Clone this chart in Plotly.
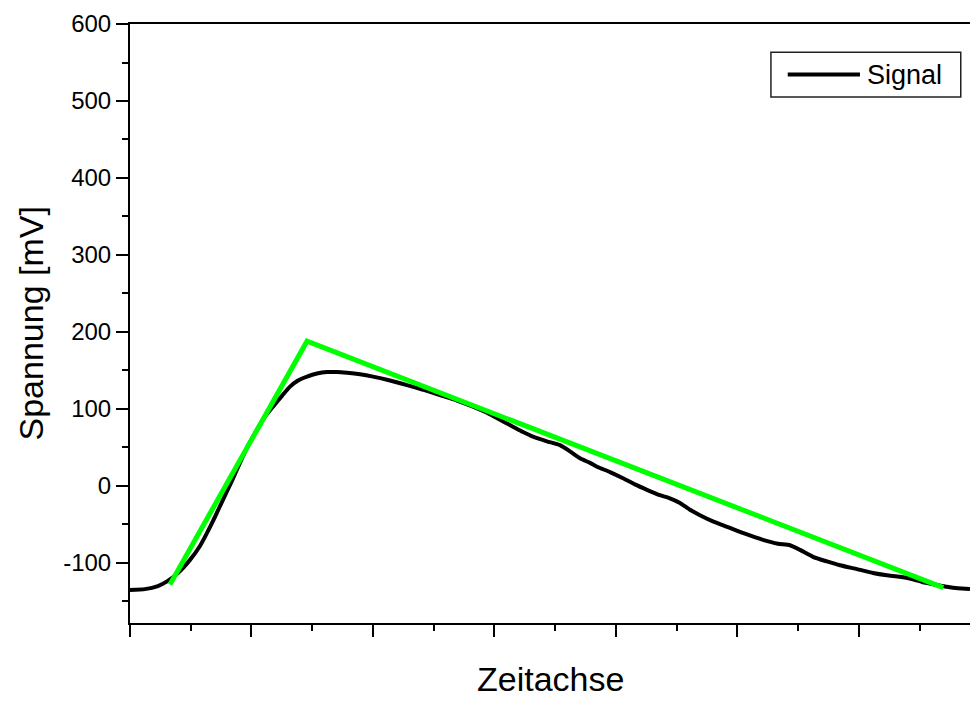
import plotly.graph_objects as go

# Signal curve (time in axis units, voltage in mV)
signal_t = [0, 0.123, 0.230, 0.305, 0.395, 0.494, 0.576, 0.634, 0.700, 0.765, 0.840, 0.905,
            0.971, 1.045, 1.111, 1.177, 1.251, 1.317, 1.383, 1.457, 1.539, 1.621, 1.704, 1.786,
            1.893, 2.0, 2.140, 2.280, 2.412, 2.551, 2.691, 2.823, 2.938, 3.045, 3.152, 3.235,
            3.317, 3.432, 3.539, 3.621, 3.704, 3.786, 3.844, 3.951, 4.058, 4.156, 4.255, 4.362,
            4.444, 4.527, 4.609, 4.691, 4.798, 4.914, 5.062, 5.210, 5.333, 5.432, 5.514, 5.621,
            5.737, 5.844, 5.984, 6.115, 6.230, 6.337, 6.436, 6.527, 6.626, 6.724, 6.815, 6.914]
signal_mv = [-135, -134, -130, -124, -113, -96, -78, -61, -40, -18, 7, 30,
             52, 73, 90, 103, 117, 129, 137, 142, 146, 148, 148, 147,
             145, 142, 137, 131, 125, 118, 111, 103, 95, 86, 77, 70,
             64, 58, 53, 45, 36, 30, 25, 18, 10, 2, -5, -12,
             -16, -22, -31, -38, -46, -53, -62, -70, -75, -77, -83, -92,
             -98, -103, -108, -113, -116, -118, -121, -125, -128, -131, -133, -134]

# Triangle approximation (green)
tri_t = [0.329, 1.457, 6.694]
tri_mv = [-128, 188, -132]

y_ticks = [-100, 0, 100, 200, 300, 400, 500, 600]
y_labels = ["-100", "0", "100", "200", "300", "400", "500", "600"]
legend_label = "Signal"

FONT = "Liberation Sans, Arial, sans-serif"

fig = go.Figure()
fig.add_trace(go.Scatter(x=signal_t, y=signal_mv, mode="lines", name=legend_label,
                         line=dict(color="black", width=4, shape="spline", smoothing=0.5),
                         showlegend=False))
fig.add_trace(go.Scatter(x=tri_t, y=tri_mv, mode="lines",
                         line=dict(color="#00FF00", width=5), showlegend=False))

# Origin-style legend box (frame, line sample, text)
lx0, lx1, ly0, ly1 = 0.763, 0.989, 0.878, 0.953
fig.add_shape(type="rect", xref="paper", yref="paper", x0=lx0, x1=lx1, y0=ly0, y1=ly1,
              line=dict(color="#222", width=1.5), fillcolor="white", layer="above")
ly = (ly0 + ly1) / 2
fig.add_shape(type="line", xref="paper", yref="paper", x0=0.783, x1=0.869, y0=ly, y1=ly,
              line=dict(color="black", width=4), layer="above")

fig.update_layout(
    width=970, height=715,
    margin=dict(l=130, r=0, t=24, b=92),
    paper_bgcolor="white", plot_bgcolor="white",
    font=dict(family=FONT, color="black"),
    showlegend=False,
    xaxis=dict(range=[0, 6.914], showgrid=False, zeroline=False,
               showline=True, linecolor="black", linewidth=2, mirror=True,
               ticks="outside", ticklen=12, tickwidth=2, tickcolor="black",
               dtick=1, tick0=0, showticklabels=False,
               minor=dict(dtick=0.5, ticks="outside", ticklen=6, tickwidth=2, tickcolor="black")),
    yaxis=dict(range=[-178, 600], showgrid=False, zeroline=False,
               showline=True, linecolor="black", linewidth=2,
               ticks="outside", ticklen=12, tickwidth=2, tickcolor="black",
               tickvals=y_ticks, ticktext=y_labels, tickfont=dict(size=24, family=FONT),
               minor=dict(dtick=50, tick0=0, ticks="outside", ticklen=6, tickwidth=2, tickcolor="black")),
    annotations=[
        dict(text=legend_label, xref="paper", yref="paper", x=0.875, y=ly,
             xanchor="left", yanchor="middle", showarrow=False, font=dict(size=27, family=FONT)),
        dict(text="Zeitachse", xref="paper", yref="paper", x=0.5, y=0, yshift=-56,
             xanchor="center", yanchor="middle", showarrow=False, font=dict(size=34, family=FONT)),
        dict(text="Spannung [mV]", xref="paper", yref="paper", x=0, y=0.5, xshift=-100,
             xanchor="center", yanchor="middle", textangle=-90, showarrow=False,
             font=dict(size=34, family=FONT)),
    ],
)

fig.write_html("out.html")
